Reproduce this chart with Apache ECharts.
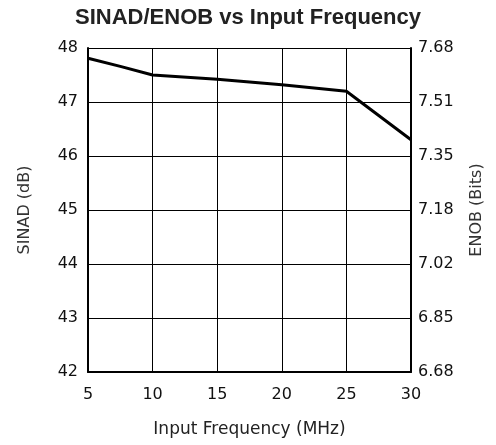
<!DOCTYPE html>
<html>
<head>
<meta charset="utf-8">
<script src="https://cdn.jsdelivr.net/npm/echarts@6/dist/echarts.min.js"></script>
<style>
  html, body { margin: 0; padding: 0; background: #fff; }
  #main { width: 496px; height: 445px; }
</style>
</head>
<body>
<div id="main"></div>
<script>
// 数据
var freq = [5, 7.5, 10, 15, 20, 25, 30];
var sinad = [47.81, 47.66, 47.5, 47.42, 47.32, 47.2, 46.3];
var enobLabels = ['6.68', '6.85', '7.02', '7.18', '7.35', '7.51', '7.68'];

var myChart = echarts.init(document.getElementById('main'));

var tickFont = { fontFamily: 'DejaVu Sans', fontSize: 16, color: '#111' };

var option = {
    animation: false,
    title: {
        text: 'SINAD/ENOB vs Input Frequency',
        left: 'center',
        top: 2,
        textStyle: { fontFamily: 'Liberation Sans', fontWeight: 'bold', fontSize: 22, color: '#222' }
    },
    grid: { left: 88, right: 85, top: 48, bottom: 73 },
    xAxis: {
        type: 'value',
        min: 5, max: 30, interval: 5,
        name: 'Input Frequency (MHz)',
        nameLocation: 'middle',
        nameGap: 49,
        nameTextStyle: { fontFamily: 'DejaVu Sans', fontSize: 17, color: '#222' },
        axisLine: { lineStyle: { color: '#000', width: 2 } },
        axisTick: { show: false },
        axisLabel: Object.assign({ margin: 15 }, tickFont),
        splitLine: { lineStyle: { color: '#000', width: 1 } }
    },
    yAxis: [
        {
            type: 'value',
            min: 42, max: 48, interval: 1,
            name: 'SINAD (dB)',
            nameLocation: 'middle',
            nameGap: 55,
            nameTextStyle: { fontFamily: 'DejaVu Sans', fontSize: 16, color: '#333' },
            axisLine: { show: true, lineStyle: { color: '#000', width: 2 } },
            axisTick: { show: false },
            axisLabel: Object.assign({ margin: 10 }, tickFont),
            splitLine: { lineStyle: { color: '#000', width: 1 } }
        },
        {
            type: 'value',
            position: 'right',
            min: 42, max: 48, interval: 1,
            name: 'ENOB (Bits)',
            nameLocation: 'middle',
            nameGap: 58,
            nameTextStyle: { fontFamily: 'DejaVu Sans', fontSize: 16, color: '#333' },
            axisLine: { show: true, lineStyle: { color: '#000', width: 2 } },
            axisTick: { show: false },
            axisLabel: Object.assign({
                margin: 7,
                formatter: function (v) { return enobLabels[Math.round(v - 42)]; }
            }, tickFont),
            splitLine: { show: false }
        }
    ],
    series: [{
        type: 'line',
        data: freq.map(function (f, i) { return [f, sinad[i]]; }),
        showSymbol: false,
        lineStyle: { color: '#000', width: 3 },
        itemStyle: { color: '#000' }
    }]
};

myChart.setOption(option);
</script>
</body>
</html>
